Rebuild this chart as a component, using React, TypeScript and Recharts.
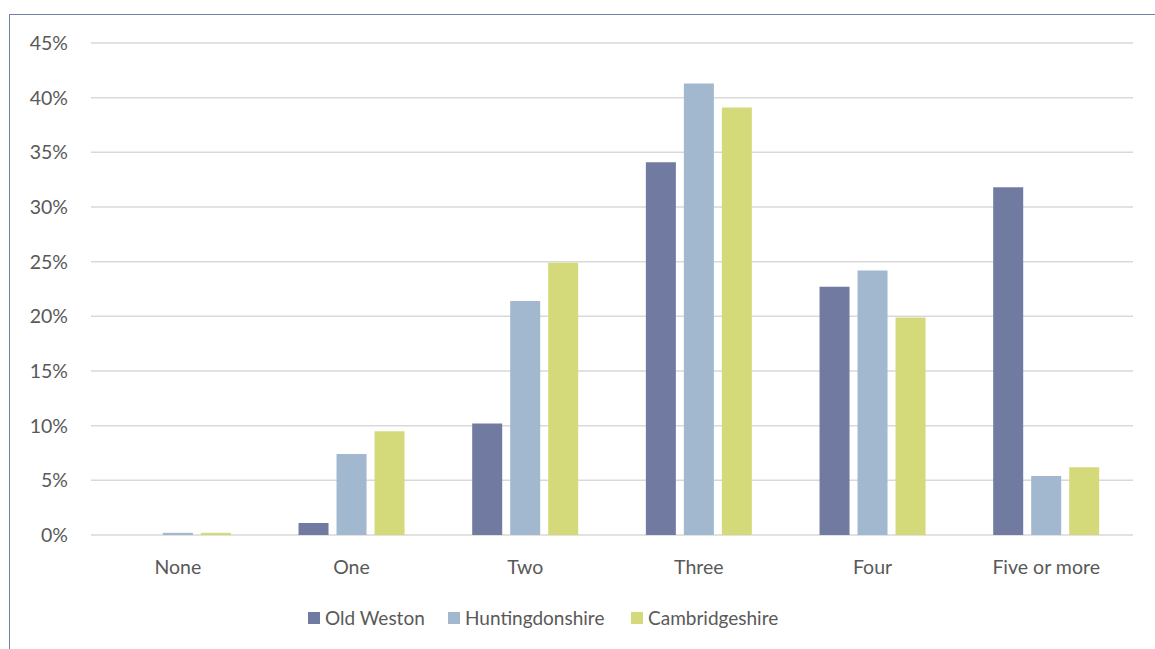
import React from "react";
import { BarChart, Bar, XAxis, YAxis, CartesianGrid, Legend } from "recharts";

// Number of bedrooms per household, share of households
const categories = ["None", "One", "Two", "Three", "Four", "Five or more"];
const oldWeston = [0, 1.1, 10.2, 34.1, 22.7, 31.8];
const huntingdonshire = [0.2, 7.4, 21.4, 41.3, 24.2, 5.4];
const cambridgeshire = [0.2, 9.5, 24.9, 39.1, 19.9, 6.2];
const yTicks = [0, 5, 10, 15, 20, 25, 30, 35, 40, 45];

const seriesDefs = [
  { key: "oldWeston", name: "Old Weston", color: "#717ba2" },
  { key: "huntingdonshire", name: "Huntingdonshire", color: "#a1b8cf" },
  { key: "cambridgeshire", name: "Cambridgeshire", color: "#d4da7a" },
];

const data = categories.map((c, i) => ({
  category: c,
  oldWeston: oldWeston[i],
  huntingdonshire: huntingdonshire[i],
  cambridgeshire: cambridgeshire[i],
}));

const FONT = "Lato, 'Noto Sans', sans-serif";
const TEXT = "#595959";
// left edge of each legend entry's swatch
const legendLefts = [0, 140, 323];

const LegendContent = () => (
  <div style={{ position: "relative", height: 24, width: 480, fontFamily: FONT, fontSize: 19, color: TEXT }}>
    {seriesDefs.map((s, i) => (
      <div
        key={s.key}
        style={{ position: "absolute", left: legendLefts[i], top: 0, display: "flex", alignItems: "center", whiteSpace: "nowrap" }}
      >
        <span style={{ display: "inline-block", width: 12, height: 12, background: s.color, marginRight: 5 }} />
        <span>{s.name}</span>
      </div>
    ))}
  </div>
);

export default function App() {
  return (
    <div style={{ position: "absolute", left: 0, top: 0, width: 1155, height: 649, background: "#fff", overflow: "hidden" }}>
      <div
        style={{
          position: "absolute",
          left: 9,
          top: 14,
          right: 0,
          bottom: 0,
          borderTop: "1.5px solid #7480a8",
          borderLeft: "1.5px solid #7480a8",
        }}
      />
      <BarChart
        width={1155}
        height={649}
        data={data}
        margin={{ top: 43, right: 22, left: 0, bottom: 20 }}
        barCategoryGap="19.5%"
        barGap={8}
        style={{ position: "absolute", left: 0, top: 0 }}
      >
        <CartesianGrid vertical={false} stroke="#d9d9d9" strokeWidth={1.5} />
        <XAxis
          dataKey="category"
          axisLine={false}
          tickLine={false}
          tickMargin={19}
          height={70}
          interval={0}
          tick={{ fill: TEXT, fontSize: 19.5, fontFamily: FONT }}
        />
        <YAxis
          width={91}
          domain={[0, 45]}
          ticks={yTicks}
          axisLine={false}
          tickLine={false}
          tickMargin={17}
          tickFormatter={(v) => `${v}%`}
          tick={{ fill: TEXT, fontSize: 19.5, fontFamily: FONT }}
        />
        {seriesDefs.map((s) => (
          <Bar key={s.key} dataKey={s.key} name={s.name} fill={s.color} isAnimationActive={false} />
        ))}
        <Legend
          content={<LegendContent />}
          wrapperStyle={{ position: "absolute", left: 308, top: 606, width: 480, height: 24, bottom: "auto" }}
        />
      </BarChart>
    </div>
  );
}
